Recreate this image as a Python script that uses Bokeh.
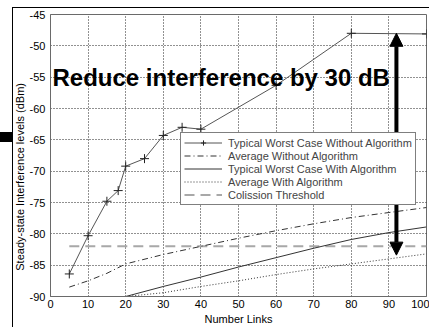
from bokeh.plotting import figure
from bokeh.models import Range1d, FixedTicker, Label, Arrow, NormalHead, Legend, LegendItem, InlineStyleSheet
from bokeh.embed import file_html
from bokeh.resources import INLINE

# ---- data ----
x_worst_without = [5, 10, 15, 18, 20, 25, 30, 35, 40, 60, 80, 100]
y_worst_without = [-86.4, -80.3, -74.8, -73.1, -69.2, -68.0, -64.3, -63.0, -63.3, -56.3, -48.0, -48.1]

x_avg_without = [5, 10, 15, 20, 30, 40, 50, 60, 70, 80, 90, 100]
y_avg_without = [-88.5, -87.5, -86.3, -84.8, -83.3, -82.0, -80.7, -79.5, -78.4, -77.4, -76.6, -75.8]

x_worst_with = [5, 20, 30, 40, 50, 60, 70, 80, 90, 100]
y_worst_with = [-90.0, -90.0, -88.4, -86.9, -85.3, -83.8, -82.3, -80.9, -79.8, -78.9]

x_avg_with = [5, 20, 30, 40, 50, 60, 70, 80, 90, 100]
y_avg_with = [-90.0, -90.0, -89.4, -88.4, -87.5, -86.5, -85.6, -84.8, -84.0, -83.2]

x_threshold = [5, 100]
y_threshold = [-82.0, -82.0]

x_ticks = [0, 10, 20, 30, 40, 50, 60, 70, 80, 90, 100]
y_ticks = [-90, -85, -80, -75, -70, -65, -60, -55, -50, -45]

labels = ["Typical Worst Case Without Algorithm", "Average Without Algorithm",
          "Typical Worst Case With Algorithm", "Average With Algorithm", "Colission Threshold"]

annotation_text = "Reduce interference by 30 dB"
arrow_x = 92.0
arrow_top = -48.0
arrow_bottom = -83.4

FONT = "Liberation Sans"

css = InlineStyleSheet(css="""
:host { position: relative; }
:host::before {
  content: ""; position: absolute; left: 12px; top: 7px; right: 0px; bottom: 0px;
  border-left: 1px solid black; border-top: 1px solid black;
  pointer-events: none; z-index: 10;
}
:host::after {
  content: ""; position: absolute; left: 0px; top: 132px; width: 12px; height: 10px;
  background: black; pointer-events: none; z-index: 10;
}
""")

p = figure(width=429, height=327, output_backend="svg", toolbar_location=None,
           x_range=Range1d(0, 100), y_range=Range1d(-90, -45),
           min_border_left=50, min_border_right=3, min_border_top=14, min_border_bottom=31,
           stylesheets=[css])
p.background_fill_color = "white"
p.border_fill_color = "white"
p.outline_line_color = "#6a6a6a"

for ax in (p.xaxis[0], p.yaxis[0]):
    ax.axis_line_color = "#6a6a6a"
    ax.major_tick_in = 0
    ax.major_tick_out = 0
    ax.minor_tick_line_color = None
    ax.major_label_text_font = FONT
    ax.major_label_text_font_size = "11px"
    ax.major_label_text_color = "black"
    ax.axis_label_text_font = FONT
    ax.axis_label_text_font_size = "11px"
    ax.axis_label_text_font_style = "normal"
    ax.axis_label_text_color = "black"

p.xaxis.ticker = FixedTicker(ticks=x_ticks)
p.yaxis.ticker = FixedTicker(ticks=y_ticks)
p.xaxis.major_label_overrides = {t: str(t) for t in x_ticks}
p.yaxis.major_label_overrides = {t: str(t) for t in y_ticks}
p.xaxis.major_label_standoff = 3
p.yaxis.major_label_standoff = 5
p.xaxis.axis_label = "Number Links"
p.xaxis.axis_label_standoff = 2
p.yaxis.axis_label = "Steady-state Interference levels (dBm)" + "\u00a0" * 14
p.yaxis.axis_label_standoff = 1

p.xgrid.ticker = FixedTicker(ticks=x_ticks)
p.ygrid.ticker = FixedTicker(ticks=y_ticks)
for g in (p.xgrid[0], p.ygrid[0]):
    g.grid_line_color = "#222222"
    g.grid_line_dash = "1 2"
    g.grid_line_width = 1

r_thr = p.line(x_threshold, y_threshold, line_color="#a8a8a8", line_width=2, line_dash="10 6")
r_aw = p.line(x_avg_with, y_avg_with, line_color="#333333", line_width=1, line_dash="1 2")
r_ww = p.line(x_worst_with, y_worst_with, line_color="#333333", line_width=1)
r_awo = p.line(x_avg_without, y_avg_without, line_color="#333333", line_width=1, line_dash="6 3 1 3")
r_wwo = p.line(x_worst_without, y_worst_without, line_color="#555555", line_width=1)
r_wwo_m = p.scatter(x_worst_without, y_worst_without, marker="cross", size=9,
                    line_color="#222222", line_width=1)

legend = Legend(items=[
    LegendItem(label=labels[0], renderers=[r_wwo, r_wwo_m]),
    LegendItem(label=labels[1], renderers=[r_awo]),
    LegendItem(label=labels[2], renderers=[r_ww]),
    LegendItem(label=labels[3], renderers=[r_aw]),
    LegendItem(label=labels[4], renderers=[r_thr]),
], location=(130, 91))
legend.label_text_font = FONT
legend.label_text_font_size = "11px"
legend.label_height = 13
legend.glyph_height = 13
legend.glyph_width = 38
legend.label_standoff = 6
legend.spacing = 0
legend.padding = 3
legend.margin = 0
legend.border_line_color = "black"
legend.border_line_width = 1
legend.background_fill_color = "white"
legend.background_fill_alpha = 1.0
p.add_layout(legend, "center")

p.add_layout(Label(x=0.53, y=-55.0, text=annotation_text, text_font=FONT,
                   text_font_size="24px", text_font_style="bold", text_color="black",
                   text_baseline="alphabetic", text_align="left"))

head_top = NormalHead(size=13, fill_color="black", line_color="black")
head_bot = NormalHead(size=13, fill_color="black", line_color="black")
p.add_layout(Arrow(start=head_bot, end=head_top, x_start=arrow_x, y_start=arrow_bottom,
                   x_end=arrow_x, y_end=arrow_top, line_width=4, line_color="black"))

open("out.html", "w").write(file_html(p, INLINE))
